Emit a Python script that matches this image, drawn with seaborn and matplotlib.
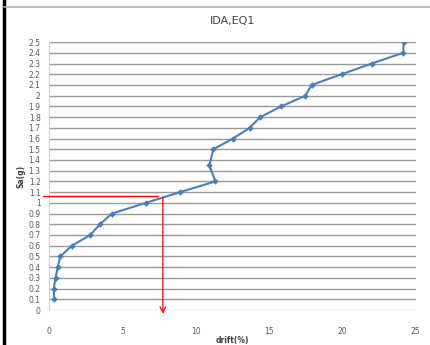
import matplotlib
matplotlib.use("Agg")
import matplotlib.pyplot as plt
import seaborn as sns
import numpy as np
import pandas as pd

# IDA curve values
sa = [0.1, 0.2, 0.3, 0.4, 0.5, 0.6, 0.7, 0.8, 0.9, 1.0, 1.1, 1.2, 1.3,
      1.4, 1.5, 1.6, 1.7, 1.8, 1.9, 2.0, 2.1, 2.2, 2.3, 2.4, 2.5]
drift = [0.36, 0.32, 0.45, 0.59, 0.77, 1.56, 2.81, 3.47, 4.29, 6.6, 8.93,
         11.34, 10.93, 10.93, 11.2, 12.54, 13.67, 14.4, 15.83, 17.48, 17.9,
         19.95, 21.99, 24.15, 24.17]

# red guide lines
guide_sa = 1.063
guide_drift = 7.76

df = pd.DataFrame({"drift": drift, "sa": sa})

sns.set_style("white")
fig = plt.figure(figsize=(4.31, 3.45), dpi=100)
ax = fig.add_axes([0.1137, 0.1014, 0.851, 0.7766])

ytick_vals = np.round(np.arange(0, 2.51, 0.1), 1)
for v in ytick_vals:
    ax.axhline(v, color="#c8c8c8" if v == 0 else "#999999", lw=1.0, zorder=1)

sns.lineplot(data=df, x="drift", y="sa", sort=False, ax=ax, color="#4a7ebb",
             lw=1.5, marker="D", markersize=3.3, markeredgewidth=0,
             zorder=3)

ax.set_xlim(0, 25)
ax.set_ylim(0, 2.5)
ax.set_xticks([0, 5, 10, 15, 20, 25])
ax.set_yticks(ytick_vals)
ax.set_yticklabels(["%g" % v for v in ytick_vals])
ax.tick_params(axis="both", length=0, labelsize=5.5, colors="#595959", pad=6)
ax.tick_params(axis="x", pad=12)
for s in ["top", "right", "bottom"]:
    ax.spines[s].set_visible(False)
ax.spines["left"].set_color("#d0d0d0")

ax.set_title("IDA,EQ1", fontsize=8, color="#404040", pad=13)
ax.set_xlabel("drift(%)", fontsize=5.5, fontweight="bold", color="#404040",
              labelpad=0)
ax.set_ylabel("Sa(g)", fontsize=5.5, fontweight="bold", color="#404040",
              labelpad=2)

ax.plot([-0.4, guide_drift - 0.35], [guide_sa, guide_sa], color="red", lw=1.0,
        clip_on=False, zorder=4)
ax.annotate("", xy=(guide_drift, -0.035), xytext=(guide_drift, guide_sa - 0.01),
            arrowprops=dict(arrowstyle="->", color="red", lw=0.9,
                            mutation_scale=10, shrinkA=0, shrinkB=0),
            annotation_clip=False, zorder=4)

# frame of the screenshot
fig.add_artist(plt.Line2D([0.009, 0.009], [0, 1], color="black", lw=2.5))
fig.add_artist(plt.Line2D([0.009, 1], [0.98, 0.98], color="#b0b0b0", lw=1.2))

fig.savefig("out.png", dpi=100)
